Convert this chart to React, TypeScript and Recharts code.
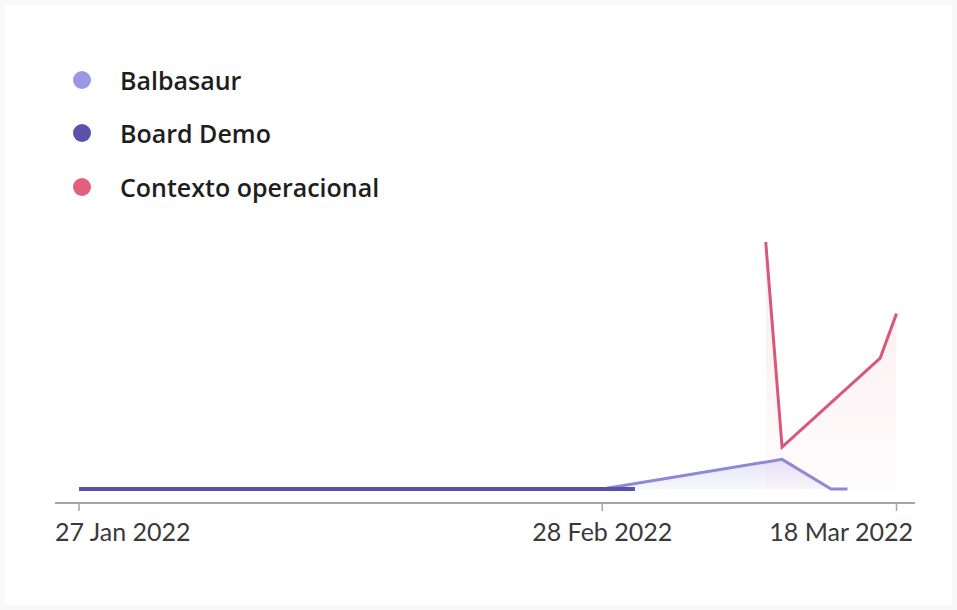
import React from 'react';
import { ComposedChart, Area, XAxis, YAxis } from 'recharts';

// days counted from 27 Jan 2022
const tickDays = [0, 32, 50];
const tickLabels = ['27 Jan 2022', '28 Feb 2022', '18 Mar 2022'];

const boardDays = [0, 34];
const boardValues = [0, 0];

const balbasaurDays = [32, 43, 46, 47];
const balbasaurValues = [0, 12, 0, 0];

const contextoDays = [42, 43, 49, 50];
const contextoValues = [100, 17, 53, 71];

const series = [
  { name: 'Balbasaur', color: '#9a98e6', days: balbasaurDays, values: balbasaurValues },
  { name: 'Board Demo', color: '#5a52a8', days: boardDays, values: boardValues },
  { name: 'Contexto operacional', color: '#e0607e', days: contextoDays, values: contextoValues },
];

const W = 957;
const H = 610;
const PLOT_LEFT = 55;
const PLOT_RIGHT = 915;

const toRows = (days: number[], values: number[]) =>
  days.map((d, i) => ({ day: d, value: values[i] }));

const AxisTick = (props: any) => {
  const { x, y, payload, index } = props;
  const label = tickLabels[tickDays.indexOf(payload.value)] ?? '';
  let anchor: 'start' | 'middle' | 'end' = 'middle';
  let tx = x;
  if (index === 0) {
    anchor = 'start';
    tx = PLOT_LEFT;
  } else if (index === tickDays.length - 1) {
    anchor = 'end';
    tx = PLOT_RIGHT - 2;
  }
  return (
    <text
      x={tx}
      y={y}
      dy="0.71em"
      textAnchor={anchor}
      fill="#3a3a3a"
      fontSize={25}
      fontFamily="Lato, sans-serif"
    >
      {label}
    </text>
  );
};

const App = () => {
  return (
    <div
      style={{
        position: 'absolute',
        left: 0,
        top: 0,
        width: W,
        height: H,
        background: '#f9f9f9',
      }}
    >
      <div
        style={{
          position: 'absolute',
          left: 5,
          top: 5,
          width: W - 10,
          height: H - 10,
          background: '#ffffff',
        }}
      />
      <div style={{ position: 'absolute', left: 0, top: 0 }}>
        <ComposedChart
          width={W}
          height={H}
          margin={{ top: 242, right: W - PLOT_RIGHT, left: PLOT_LEFT, bottom: 67 }}
        >
          <defs>
            <linearGradient id="fillBalb" x1="0" y1="0" x2="0" y2="1">
              <stop offset="0%" stopColor="#9a98e6" stopOpacity={0.25} />
              <stop offset="100%" stopColor="#9a98e6" stopOpacity={0.08} />
            </linearGradient>
            <linearGradient id="fillCtx" x1="0" y1="0" x2="0" y2="1">
              <stop offset="0%" stopColor="#e0607e" stopOpacity={0.12} />
              <stop offset="100%" stopColor="#e0607e" stopOpacity={0.02} />
            </linearGradient>
          </defs>
          <XAxis
            dataKey="day"
            type="number"
            domain={[-1.47, 51.13]}
            ticks={tickDays}
            allowDataOverflow
            height={40}
            tickSize={8}
            tickMargin={12}
            axisLine={{ stroke: '#a6a6a6', strokeWidth: 2 }}
            tickLine={{ stroke: '#a6a6a6', strokeWidth: 1.5 }}
            tick={<AxisTick />}
          />
          <YAxis hide type="number" domain={[0, 100]} padding={{ top: 0, bottom: 14 }} />
          <Area
            data={toRows(balbasaurDays, balbasaurValues)}
            dataKey="value"
            type="linear"
            stroke="#8c8ad8"
            strokeWidth={3}
            fill="url(#fillBalb)"
            fillOpacity={1}
            isAnimationActive={false}
            dot={false}
            activeDot={false}
          />
          <Area
            data={toRows(contextoDays, contextoValues)}
            dataKey="value"
            type="linear"
            stroke="#d9587a"
            strokeWidth={3}
            fill="url(#fillCtx)"
            fillOpacity={1}
            isAnimationActive={false}
            dot={false}
            activeDot={false}
          />
          <Area
            data={toRows(boardDays, boardValues)}
            dataKey="value"
            type="linear"
            stroke="#5a52a8"
            strokeWidth={4}
            fill="none"
            isAnimationActive={false}
            dot={false}
            activeDot={false}
          />
        </ComposedChart>
      </div>
      <div style={{ position: 'absolute', left: 73, top: 53 }}>
        {series.map((s) => (
          <div
            key={s.name}
            style={{ display: 'flex', alignItems: 'center', height: 53.5 }}
          >
            <span
              style={{
                width: 18,
                height: 18,
                borderRadius: '50%',
                background: s.color,
                display: 'inline-block',
                marginRight: 29,
              }}
            />
            <span
              style={{
                fontFamily: '"Open Sans", sans-serif',
                fontWeight: 600,
                fontSize: 25,
                color: '#1e1e1e',
              }}
            >
              {s.name}
            </span>
          </div>
        ))}
      </div>
    </div>
  );
};

export default App;
